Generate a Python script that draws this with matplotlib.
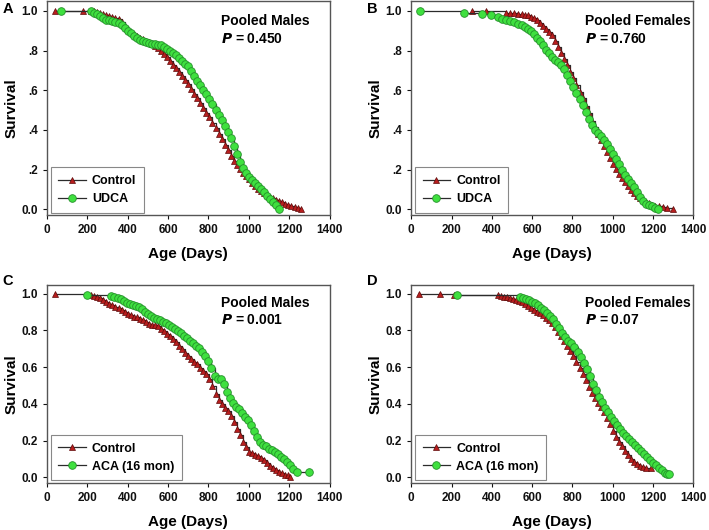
import matplotlib.pyplot as plt
from matplotlib.lines import Line2D

plt.rcParams['font.family'] = ['Liberation Sans', 'DejaVu Sans']
plt.rcParams['font.weight'] = 'bold'

# Panel A - pooled males, UDCA
a_ctrl_age = [40, 180, 220, 235, 250, 265, 280, 295, 310, 325, 340, 355, 370, 385, 400, 415, 430,
              445, 460, 475, 490, 505, 520, 535, 550, 565, 580, 595, 610, 625, 640, 655, 670, 685,
              700, 715, 730, 745, 760, 775, 790, 805, 820, 835, 850, 865, 880, 895, 910, 925, 940,
              955, 970, 985, 1000, 1015, 1030, 1045, 1060, 1075, 1090, 1105, 1120, 1135, 1150,
              1165, 1180, 1195, 1210, 1230, 1245, 1260]
a_ctrl_surv = [1.0, 1.0, 1.0, 0.998, 0.995, 0.99, 0.985, 0.98, 0.975, 0.97, 0.965, 0.958, 0.945,
               0.925, 0.905, 0.895, 0.885, 0.875, 0.865, 0.857, 0.85, 0.843, 0.835, 0.825, 0.815,
               0.80, 0.785, 0.77, 0.75, 0.73, 0.712, 0.693, 0.672, 0.65, 0.63, 0.607, 0.583, 0.56,
               0.535, 0.51, 0.487, 0.463, 0.436, 0.408, 0.38, 0.353, 0.326, 0.298, 0.27, 0.245,
               0.222, 0.202, 0.185, 0.167, 0.15, 0.132, 0.115, 0.10, 0.09, 0.08, 0.071, 0.063,
               0.055, 0.048, 0.04, 0.034, 0.028, 0.022, 0.017, 0.01, 0.006, 0.003]
a_trt_age = [70, 220, 235, 250, 265, 280, 295, 310, 325, 340, 355, 370, 385, 400, 415, 430, 445,
             460, 475, 490, 505, 520, 535, 550, 565, 580, 595, 610, 625, 640, 655, 670, 685, 700,
             715, 730, 745, 760, 775, 790, 805, 820, 835, 850, 865, 880, 895, 910, 925, 940, 955,
             970, 985, 1000, 1015, 1030, 1045, 1060, 1075, 1090, 1105, 1120, 1135, 1150]
a_trt_surv = [1.0, 1.0, 0.992, 0.985, 0.977, 0.965, 0.956, 0.952, 0.948, 0.943, 0.937, 0.928,
              0.915, 0.90, 0.888, 0.875, 0.863, 0.855, 0.848, 0.842, 0.838, 0.835, 0.832, 0.83,
              0.827, 0.82, 0.81, 0.80, 0.79, 0.778, 0.765, 0.75, 0.735, 0.72, 0.698, 0.672, 0.648,
              0.625, 0.60, 0.58, 0.556, 0.53, 0.503, 0.475, 0.448, 0.42, 0.39, 0.358, 0.32, 0.28,
              0.24, 0.21, 0.185, 0.165, 0.148, 0.132, 0.115, 0.10, 0.085, 0.068, 0.05, 0.035,
              0.02, 0.003]

# Panel B - pooled females, UDCA
b_ctrl_age = [300, 370, 470, 490, 510, 530, 550, 565, 580, 595, 610, 625, 640, 655, 670, 685, 700,
              715, 730, 745, 760, 775, 790, 805, 820, 835, 850, 865, 880, 895, 910, 925, 940, 955,
              970, 985, 1000, 1015, 1030, 1045, 1060, 1075, 1090, 1105, 1120, 1135, 1150, 1165,
              1180, 1195, 1210, 1230, 1250, 1270, 1300]
b_ctrl_surv = [1.0, 1.0, 0.99, 0.99, 0.99, 0.987, 0.985, 0.982, 0.978, 0.972, 0.965, 0.955, 0.94,
               0.925, 0.91, 0.895, 0.877, 0.85, 0.82, 0.79, 0.757, 0.725, 0.692, 0.66, 0.627,
               0.593, 0.56, 0.522, 0.485, 0.447, 0.413, 0.38, 0.35, 0.32, 0.29, 0.26, 0.23, 0.205,
               0.18, 0.157, 0.137, 0.117, 0.097, 0.08, 0.068, 0.056, 0.045, 0.037, 0.03, 0.023,
               0.018, 0.014, 0.01, 0.006, 0.0]
b_trt_age = [45, 260, 350, 395, 430, 450, 470, 490, 510, 530, 550, 565, 580, 595, 610, 625, 640,
             655, 670, 685, 700, 715, 730, 745, 760, 775, 790, 805, 820, 835, 850, 865, 880, 895,
             910, 925, 940, 955, 970, 985, 1000, 1015, 1030, 1045, 1060, 1075, 1090, 1105, 1120,
             1135, 1150, 1165, 1180, 1195, 1210, 1225]
b_trt_surv = [1.0, 0.99, 0.987, 0.98, 0.97, 0.96, 0.952, 0.947, 0.942, 0.935, 0.928, 0.92, 0.91,
              0.898, 0.885, 0.866, 0.847, 0.827, 0.805, 0.787, 0.77, 0.755, 0.742, 0.728, 0.705,
              0.675, 0.645, 0.615, 0.585, 0.555, 0.525, 0.49, 0.457, 0.425, 0.40, 0.385, 0.368,
              0.35, 0.328, 0.305, 0.28, 0.255, 0.228, 0.20, 0.175, 0.152, 0.13, 0.11, 0.088,
              0.064, 0.04, 0.028, 0.02, 0.014, 0.008, 0.0]

# Panel C - pooled males, ACA
c_ctrl_age = [40, 220, 235, 250, 265, 280, 295, 310, 325, 340, 355, 370, 385, 400, 415, 430, 445,
              460, 475, 490, 505, 520, 535, 550, 565, 580, 595, 610, 625, 640, 655, 670, 685, 700,
              715, 730, 745, 760, 775, 790, 805, 820, 835, 850, 865, 880, 895, 910, 925, 940, 955,
              970, 985, 1000, 1015, 1030, 1045, 1060, 1075, 1090, 1105, 1120, 1135, 1150, 1165,
              1180, 1195, 1205]
c_ctrl_surv = [1.0, 0.995, 0.99, 0.985, 0.975, 0.965, 0.955, 0.945, 0.937, 0.93, 0.92, 0.91, 0.90,
               0.89, 0.882, 0.876, 0.871, 0.865, 0.855, 0.845, 0.838, 0.832, 0.828, 0.825, 0.81,
               0.795, 0.783, 0.77, 0.755, 0.737, 0.718, 0.70, 0.68, 0.66, 0.645, 0.63, 0.615,
               0.598, 0.58, 0.562, 0.535, 0.495, 0.455, 0.42, 0.40, 0.38, 0.36, 0.335, 0.30, 0.265,
               0.23, 0.195, 0.165, 0.14, 0.132, 0.122, 0.115, 0.105, 0.092, 0.078, 0.064, 0.052,
               0.04, 0.03, 0.022, 0.015, 0.01, 0.0]
c_trt_age = [200, 320, 335, 350, 365, 380, 395, 410, 425, 440, 455, 470, 485, 500, 515, 530, 545,
             560, 575, 590, 605, 620, 635, 650, 665, 680, 695, 710, 725, 740, 755, 770, 785, 800,
             815, 830, 845, 860, 875, 890, 905, 920, 935, 950, 965, 980, 995, 1010, 1025, 1040,
             1055, 1070, 1085, 1100, 1115, 1130, 1145, 1160, 1175, 1190, 1205, 1220, 1240, 1300]
c_trt_surv = [0.995, 0.99, 0.985, 0.978, 0.97, 0.96, 0.952, 0.946, 0.94, 0.935, 0.928, 0.915, 0.90,
              0.888, 0.877, 0.868, 0.862, 0.856, 0.848, 0.84, 0.83, 0.82, 0.81, 0.798, 0.785,
              0.77, 0.758, 0.745, 0.732, 0.718, 0.702, 0.685, 0.66, 0.635, 0.595, 0.55, 0.538,
              0.535, 0.51, 0.465, 0.43, 0.405, 0.385, 0.37, 0.35, 0.33, 0.31, 0.285, 0.255, 0.22,
              0.195, 0.178, 0.168, 0.157, 0.148, 0.137, 0.125, 0.113, 0.10, 0.085, 0.065, 0.048,
              0.03, 0.03]

# Panel D - pooled females, ACA
d_ctrl_age = [40, 145, 210, 430, 445, 460, 475, 490, 505, 520, 535, 550, 565, 580, 595, 610, 625,
              640, 655, 670, 685, 700, 715, 730, 745, 760, 775, 790, 805, 820, 835, 850, 865, 880,
              895, 910, 925, 940, 955, 970, 985, 1000, 1015, 1030, 1045, 1060, 1075, 1090, 1105,
              1120, 1135, 1150, 1165, 1190]
d_ctrl_surv = [1.0, 1.0, 0.995, 0.993, 0.988, 0.984, 0.98, 0.977, 0.973, 0.968, 0.963, 0.957,
               0.947, 0.935, 0.924, 0.913, 0.903, 0.893, 0.882, 0.87, 0.857, 0.84, 0.818, 0.793,
               0.768, 0.743, 0.716, 0.69, 0.66, 0.628, 0.596, 0.563, 0.528, 0.492, 0.458, 0.43,
               0.405, 0.382, 0.358, 0.325, 0.288, 0.25, 0.222, 0.195, 0.168, 0.145, 0.122, 0.10,
               0.083, 0.07, 0.06, 0.054, 0.052, 0.052]
d_trt_age = [225, 540, 555, 570, 585, 600, 615, 630, 645, 660, 675, 690, 705, 720, 735, 750, 765,
             780, 795, 810, 825, 840, 855, 870, 885, 900, 915, 930, 945, 960, 975, 990, 1005,
             1020, 1035, 1050, 1065, 1080, 1095, 1110, 1125, 1140, 1155, 1170, 1185, 1200, 1215,
             1230, 1245, 1260, 1270, 1280]
d_trt_surv = [0.995, 0.984, 0.978, 0.972, 0.965, 0.957, 0.948, 0.937, 0.925, 0.91, 0.895, 0.878,
              0.86, 0.838, 0.813, 0.787, 0.765, 0.745, 0.73, 0.71, 0.685, 0.655, 0.625, 0.59,
              0.55, 0.51, 0.475, 0.44, 0.41, 0.38, 0.355, 0.33, 0.305, 0.285, 0.262, 0.24, 0.223,
              0.207, 0.19, 0.175, 0.16, 0.144, 0.128, 0.112, 0.096, 0.08, 0.065, 0.05, 0.038,
              0.025, 0.02, 0.02]

panels = [
    ("A", a_ctrl_age, a_ctrl_surv, a_trt_age, a_trt_surv, "UDCA", "Pooled Males", "0.450", True),
    ("B", b_ctrl_age, b_ctrl_surv, b_trt_age, b_trt_surv, "UDCA", "Pooled Females", "0.760", True),
    ("C", c_ctrl_age, c_ctrl_surv, c_trt_age, c_trt_surv, "ACA (16 mon)", "Pooled Males", "0.001", False),
    ("D", d_ctrl_age, d_ctrl_surv, d_trt_age, d_trt_surv, "ACA (16 mon)", "Pooled Females", "0.07", False),
]

# axes rectangles (figure fraction) and panel letter positions (pixels)
rects = [
    [0.066, 0.594, 0.399, 0.404],
    [0.580, 0.594, 0.398, 0.404],
    [0.066, 0.089, 0.399, 0.374],
    [0.580, 0.089, 0.398, 0.374],
]
letter_px = [(8, 9), (372, 9), (8, 281), (372, 281)]

red_face = '#b81e1e'
red_edge = '#5e0a0a'
green_face = '#3fe03f'
green_edge = '#24902a'
line_col = '#2b2b2b'

W, H = 709, 530
fig = plt.figure(figsize=(W / 100, H / 100), dpi=100)

for (letter, cx, cy, tx, ty, tname, title, pval, short_ticks), rect, lp in zip(panels, rects, letter_px):
    ax = fig.add_axes(rect)
    ax.plot(cx, cy, drawstyle='steps-post', color=line_col, lw=0.9, marker='^', ms=4.5,
            mfc=red_face, mec=red_edge, mew=0.5, zorder=3)
    ax.plot(tx, ty, drawstyle='steps-post', color=line_col, lw=0.9, marker='o', ms=5.5,
            mfc=green_face, mec=green_edge, mew=0.6, zorder=4)

    ax.set_xlim(0, 1400)
    ax.set_ylim(-0.03, 1.05)
    ax.set_xticks([0, 200, 400, 600, 800, 1000, 1200, 1400])
    ax.set_yticks([0.0, 0.2, 0.4, 0.6, 0.8, 1.0])
    if short_ticks:
        ax.set_yticklabels(["0.0", ".2", ".4", ".6", ".8", "1.0"])
    else:
        ax.set_yticklabels(["0.0", "0.2", "0.4", "0.6", "0.8", "1.0"])
    ax.tick_params(direction='out', length=3, width=0.8, labelsize=8.5, colors='#111111')
    for s in ax.spines.values():
        s.set_color('#555555')
        s.set_linewidth(1.0)

    ax.set_xlabel("Age (Days)", fontsize=11, fontweight='bold', labelpad=8)
    ax.set_ylabel("Survival", fontsize=11, fontweight='bold', labelpad=2)

    ax.text(0.615, 0.905, title, transform=ax.transAxes, fontsize=10, fontweight='bold',
            va='center', ha='left')
    ax.text(0.615, 0.822, r"$\mathbfit{P}$ = " + pval, transform=ax.transAxes, fontsize=10,
            fontweight='bold', va='center', ha='left')

    fig.text(lp[0] / W, 1 - lp[1] / H, letter, fontsize=10.5, fontweight='bold',
             va='center', ha='center')

    handles = [
        Line2D([], [], color=line_col, lw=0.9, marker='^', ms=4.5, mfc=red_face, mec=red_edge, mew=0.5),
        Line2D([], [], color=line_col, lw=0.9, marker='o', ms=5.5, mfc=green_face, mec=green_edge, mew=0.6),
    ]
    leg = ax.legend(handles, ["Control", tname], loc='lower left', fontsize=9,
                    fancybox=False, edgecolor='#888888', framealpha=1, borderpad=0.6,
                    handlelength=2.2, handletextpad=0.5, labelspacing=0.5,
                    borderaxespad=0.2, bbox_to_anchor=(0.005, 0.0))
    leg.get_frame().set_linewidth(0.8)

fig.savefig("out.png", dpi=100)
